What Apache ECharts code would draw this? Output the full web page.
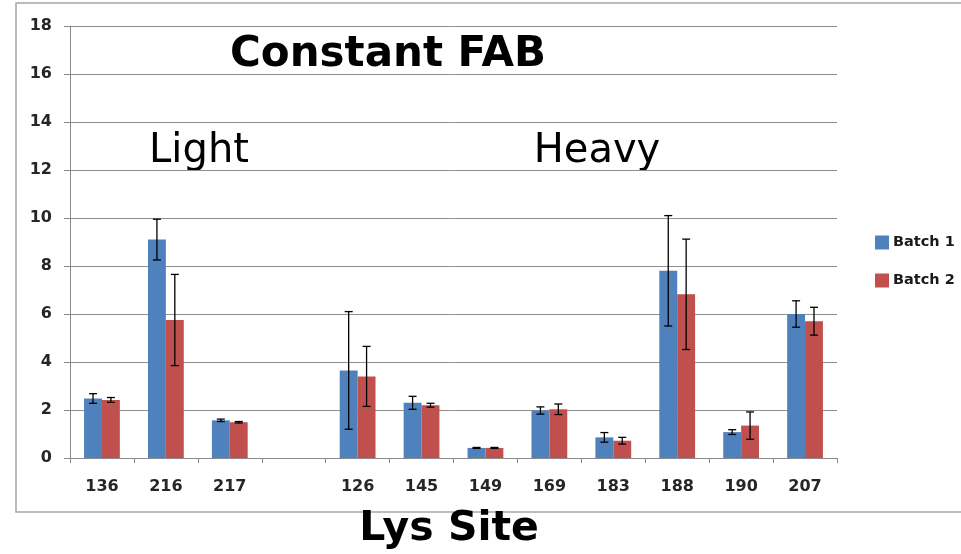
<!DOCTYPE html>
<html>
<head>
<meta charset="utf-8">
<style>
  html, body { margin: 0; padding: 0; background: #fff; }
  #chart { width: 961px; height: 554px; }
</style>
<script src="https://cdn.jsdelivr.net/npm/echarts@6/dist/echarts.min.js"></script>
</head>
<body>
<div id="chart"></div>
<script>
// Lys sites (empty slot separates the light and heavy chains)
const sites = ['136', '216', '217', '', '126', '145', '149', '169', '183', '188', '190', '207'];

// Mean values per batch
const batch1 = [2.48, 9.1, 1.57, null, 3.65, 2.3, 0.42, 1.98, 0.86, 7.8, 1.08, 6.0];
const batch2 = [2.42, 5.75, 1.49, null, 3.4, 2.2, 0.42, 2.03, 0.72, 6.82, 1.35, 5.7];

// Error (± half-range) per batch
const err1 = [0.2, 0.85, 0.05, null, 2.45, 0.27, 0.02, 0.15, 0.2, 2.3, 0.1, 0.55];
const err2 = [0.1, 1.9, 0.03, null, 1.25, 0.08, 0.02, 0.22, 0.14, 2.3, 0.57, 0.58];

const yTicks = { min: 0, max: 18, interval: 2 };

const BLUE = '#4F81BD';
const RED = '#C0504D';
const CATEGORY_GAP = 0.44;

function errorData(values, errs) {
  return values.map((v, i) => (v == null ? [i, null, null] : [i, v, errs[i]]));
}

// Draws whiskers centred on one of the two bars in each category
function errorRenderer(side) {
  return function (params, api) {
    const v = api.value(1);
    const e = api.value(2);
    if (v == null || isNaN(v)) return;
    const i = api.value(0);
    const band = api.size([1, 0])[0];
    const barW = band * (1 - CATEGORY_GAP) / 2;
    const dx = side * barW / 2;
    const top = api.coord([i, v + e]);
    const bot = api.coord([i, Math.max(0, v - e)]);
    const x = top[0] + dx;
    const cap = 4;
    const style = { stroke: '#000', lineWidth: 1.3 };
    return {
      type: 'group',
      children: [
        { type: 'line', shape: { x1: x, y1: top[1], x2: x, y2: bot[1] }, style },
        { type: 'line', shape: { x1: x - cap, y1: top[1], x2: x + cap, y2: top[1] }, style },
        { type: 'line', shape: { x1: x - cap, y1: bot[1], x2: x + cap, y2: bot[1] }, style }
      ]
    };
  };
}

const chart = echarts.init(document.getElementById('chart'), null, { renderer: 'canvas' });

const labelFont = { fontFamily: 'DejaVu Sans', fontWeight: 'bold', fontSize: 16, color: '#262626' };

chart.setOption({
  animation: false,
  backgroundColor: '#fff',
  grid: { left: 70, right: 124, top: 26, bottom: 96, containLabel: false },
  legend: {
    orient: 'vertical',
    left: 870,
    top: 230,
    itemWidth: 14,
    itemHeight: 14,
    itemGap: 23,
    icon: 'rect',
    textStyle: { fontFamily: 'DejaVu Sans', fontWeight: 'bold', fontSize: 14.5, color: '#1a1a1a', padding: [0, 0, 0, -1] },
    data: ['Batch 1', 'Batch 2']
  },
  xAxis: {
    type: 'category',
    data: sites,
    boundaryGap: true,
    axisLine: { show: true, lineStyle: { color: '#8a8a8a', width: 1 } },
    axisTick: { show: true, length: 5, alignWithLabel: false, lineStyle: { color: '#8a8a8a' } },
    axisLabel: Object.assign({ margin: 21, interval: 0 }, labelFont),
    splitLine: { show: false }
  },
  yAxis: {
    type: 'value',
    min: yTicks.min,
    max: yTicks.max,
    interval: yTicks.interval,
    axisLine: { show: true, lineStyle: { color: '#8a8a8a', width: 1 } },
    axisTick: { show: true, length: 6, lineStyle: { color: '#8a8a8a' } },
    axisLabel: Object.assign({ margin: 18 }, labelFont),
    splitLine: { show: true, lineStyle: { color: '#8f8f8f', width: 1 } }
  },
  series: [
    {
      name: 'Batch 1',
      type: 'bar',
      data: batch1.map(v => (v == null ? '-' : v)),
      barGap: '0%',
      barCategoryGap: (CATEGORY_GAP * 100) + '%',
      itemStyle: { color: BLUE }
    },
    {
      name: 'Batch 2',
      type: 'bar',
      data: batch2.map(v => (v == null ? '-' : v)),
      barGap: '0%',
      barCategoryGap: (CATEGORY_GAP * 100) + '%',
      itemStyle: { color: RED }
    },
    {
      type: 'custom',
      renderItem: errorRenderer(-1),
      data: errorData(batch1, err1),
      encode: { x: 0, y: 1 },
      z: 10,
      silent: true
    },
    {
      type: 'custom',
      renderItem: errorRenderer(1),
      data: errorData(batch2, err2),
      encode: { x: 0, y: 1 },
      z: 10,
      silent: true
    }
  ],
  graphic: [
    {
      type: 'rect',
      shape: { x: 16, y: 3, width: 1100, height: 509 },
      style: { fill: 'none', stroke: '#a6a6a6', lineWidth: 1.5 },
      z: -1
    },
    {
      type: 'text',
      x: 388, y: 55,
      style: { text: 'Constant FAB', fontFamily: 'DejaVu Sans', fontWeight: 'bold', fontSize: 42, fill: '#000', textAlign: 'center', textVerticalAlign: 'middle' }
    },
    {
      type: 'text',
      x: 199, y: 152,
      style: { text: 'Light', fontFamily: 'DejaVu Sans', fontSize: 40, fill: '#000', textAlign: 'center', textVerticalAlign: 'middle' }
    },
    {
      type: 'text',
      x: 597, y: 152,
      style: { text: 'Heavy', fontFamily: 'DejaVu Sans', fontSize: 40, fill: '#000', textAlign: 'center', textVerticalAlign: 'middle' }
    },
    {
      type: 'text',
      x: 449, y: 529,
      style: { text: 'Lys Site', fontFamily: 'DejaVu Sans', fontWeight: 'bold', fontSize: 41, fill: '#000', textAlign: 'center', textVerticalAlign: 'middle' }
    }
  ]
});
</script>
</body>
</html>
